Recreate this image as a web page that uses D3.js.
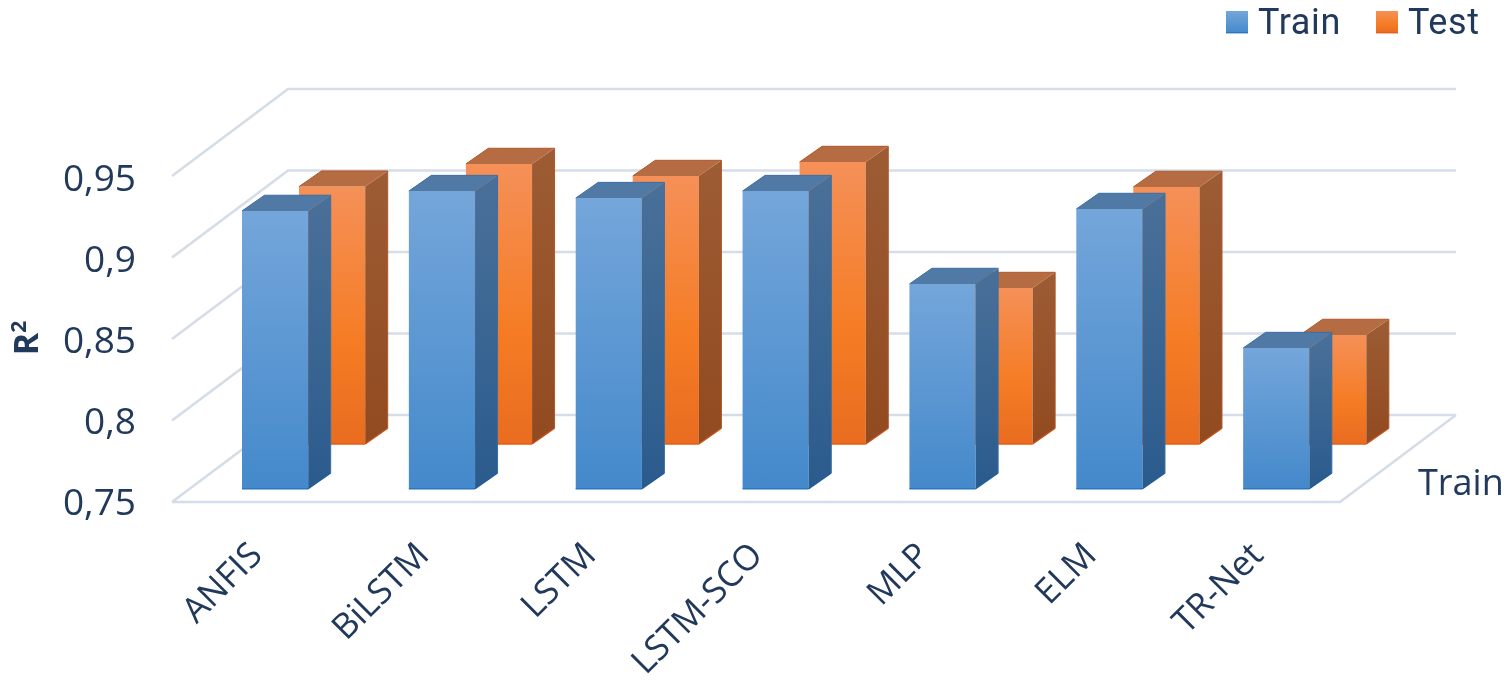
<!DOCTYPE html>
<html><head><meta charset="utf-8">
<script src="https://cdnjs.cloudflare.com/ajax/libs/d3/7.8.5/d3.min.js"></script>
<style>html,body{margin:0;padding:0;background:#fff}svg{display:block;filter:blur(0.55px)}text{font-family:"Open Sans",sans-serif;fill:#21395a}</style>
</head><body><svg id="c" width="1508" height="683"></svg>
<script>
const categories=["ANFIS","BiLSTM","LSTM","LSTM-SCO","MLP","ELM","TR-Net"];
const trainValues=[0.9204,0.9326,0.9283,0.9326,0.8756,0.9216,0.8363];
const testValues=[0.9079,0.9218,0.9144,0.9230,0.8457,0.9077,0.8169];
const seriesNames=["Train","Test"];
const yTicks=[0.75,0.8,0.85,0.9,0.95];
const tickLabels=["0,75","0,8","0,85","0,9","0,95"];

const svg=d3.select("#c"),defs=svg.append("defs");
const x=d3.scaleBand().domain(categories).range([172,1340]);
const y=d3.scaleLinear().domain([0.75,0.95]).range([502,176]);
const yLabel=d3.scaleLinear().domain([0.75,0.95]).range([515,191]);
const depth={x:116,y:87};
const seriesX=d3.scaleOrdinal().domain(seriesNames).range([70,127]);
const seriesLift=d3.scaleOrdinal().domain(seriesNames).range([13.3,58]);
const barW=66.2,barDX=22.5,barDY=15.7;

function grad(id,stops){const g=defs.append("linearGradient").attr("id",id).attr("x1",0).attr("y1",0).attr("x2",0).attr("y2",1);
 stops.forEach(s=>g.append("stop").attr("offset",s[0]).attr("stop-color",s[1]));}
grad("trF",[[0,"#74a6da"],[1,"#4489cb"]]);
grad("trS",[[0,"#4a7099"],[1,"#2a5b8d"]]);
grad("teF",[[0,"#f59058"],[0.6,"#f57c24"],[1,"#e96c20"]]);
grad("teS",[[0,"#9d5c34"],[1,"#924a20"]]);
const styles={Train:{f:"url(#trF)",s:"url(#trS)",t:"#5079a6",e:"#3a6ea5",be:"#2b76bf",se:"#1f5c99"},
              Test:{f:"url(#teF)",s:"url(#teS)",t:"#b66c42",e:"#b0562a",be:"#e85c14",se:"#c9521c"}};

// gridlines
const grid=svg.append("g").attr("fill","none").attr("stroke","#d4dde8").attr("stroke-width",2.6);
const line=d3.line();
grid.selectAll("path.g").data(yTicks).join("path").attr("class","g").attr("d",v=>line([
 [x.range()[0],y(v)],[x.range()[0]+depth.x,y(v)-depth.y],[x.range()[1]+depth.x,y(v)-depth.y]]));
grid.append("path").attr("d",line([[x.range()[0],y(0.75)],[x.range()[1],y(0.75)],[x.range()[1]+depth.x,y(0.75)-depth.y]]));

function bar(g,name,cat,val){
 const st=styles[name],x0=x(cat)+seriesX(name),x1=x0+barW,b=y(0.75)-seriesLift(name),t=y(val)-seriesLift(name);
 g.append("path").attr("fill",st.f).attr("d",line([[x0,t],[x1,t],[x1,b],[x0,b]])+"Z");
 g.append("path").attr("fill",st.s).attr("d",line([[x1,t],[x1+barDX,t-barDY],[x1+barDX,b-barDY],[x1,b]])+"Z");
 g.append("path").attr("fill",st.t).attr("d",line([[x0,t],[x0+barDX,t-barDY],[x1+barDX,t-barDY],[x1,t]])+"Z");
 g.append("path").attr("fill","none").attr("stroke",st.be).attr("stroke-width",1.6).attr("d",line([[x0,b],[x1,b]]));
 g.append("path").attr("fill","none").attr("stroke",st.se).attr("stroke-width",1.4).attr("d",line([[x1,b],[x1+barDX,b-barDY]]));
 g.append("path").attr("fill","none").attr("stroke",st.e).attr("stroke-width",1).attr("d",line([[x0,t],[x0+barDX,t-barDY],[x1+barDX,t-barDY],[x1+barDX,b-barDY]]));
}
const bars=svg.append("g");
categories.forEach((c,i)=>bar(bars,"Test",c,testValues[i]));
categories.forEach((c,i)=>bar(bars,"Train",c,trainValues[i]));

// y axis labels
svg.append("g").selectAll("text").data(yTicks).join("text")
 .attr("x",136).attr("y",v=>yLabel(v)).attr("text-anchor","end").attr("font-size",37)
 .text((v,i)=>tickLabels[i]);
const rt=svg.append("text").attr("transform","translate(37.5,338) rotate(-90)").attr("text-anchor","middle")
 .attr("font-size",34).attr("font-weight",700);
rt.append("tspan").text("R");
rt.append("tspan").attr("font-size",21).attr("dy",-12).text("2");

// category labels
svg.append("g").selectAll("text").data(categories).join("text")
 .attr("text-anchor","end").attr("font-size",35)
 .attr("transform",c=>`translate(${x(c)+seriesX("Train")+22},${557}) rotate(-45)`)
 .text(c=>c);
svg.append("text").attr("x",1418).attr("y",495).attr("font-size",36).text(seriesNames[0]);

// legend
const legendX=d3.scaleOrdinal().domain(seriesNames).range([1226,1376]);
const lg=svg.append("g");
seriesNames.forEach(n=>{
 const st=styles[n];
 lg.append("rect").attr("x",legendX(n)).attr("y",11).attr("width",22).attr("height",22).attr("fill",st.f);
 lg.append("rect").attr("x",legendX(n)).attr("y",32).attr("width",22).attr("height",1.4).attr("fill",st.be);
 lg.append("text").attr("x",legendX(n)+32).attr("y",33.5).attr("font-size",36)
   .style("font-family","Roboto").attr("letter-spacing",0.6).text(n);
});
</script></body></html>
